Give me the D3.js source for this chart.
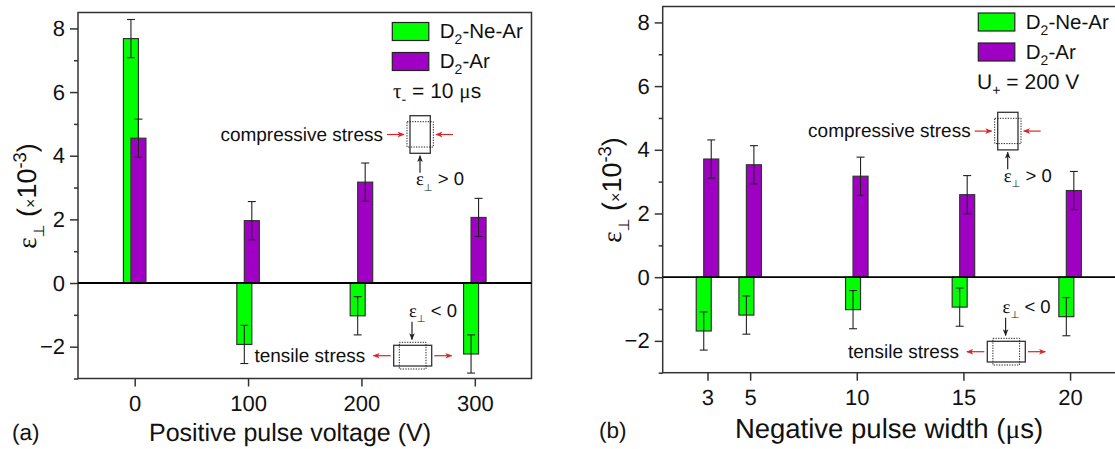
<!DOCTYPE html>
<html>
<head>
<meta charset="utf-8">
<script src="https://d3js.org/d3.v7.min.js"></script>
<style>
html, body { margin: 0; padding: 0; background: #fff; overflow: hidden; }
text { font-family: "Liberation Sans", Arial, sans-serif; fill: #111; text-rendering: geometricPrecision; }
</style>
</head>
<body>
<div id="chart"></div>
<script>
// values
const voltages = [0, 100, 200, 300]
const neVoltage = [7.68, -1.93, -1.03, -2.23]
const arVoltage = [4.55, 1.96, 3.17, 2.06]
const neVoltageErr = [0.6, 0.6, 0.6, 0.6]
const arVoltageErr = [0.6, 0.6, 0.6, 0.6]

const widths = [3, 5, 10, 15, 20]
const neWidth = [-1.69, -1.19, -1.02, -0.94, -1.24]
const arWidth = [3.71, 3.53, 3.17, 2.59, 2.72]
const neWidthErr = [0.6, 0.6, 0.6, 0.6, 0.6]
const arWidthErr = [0.6, 0.6, 0.6, 0.6, 0.6]

const yMajor = [-2, 0, 2, 4, 6, 8]
const yMinor = [-3, -1, 1, 3, 5, 7]

const GREEN = '#00ff00'
const PURPLE = '#a000c4'
const RED = '#d8262c'
const AXIS = '#333'
const BAR_W = 15
const BAR_SHIFT = 3.75
const CAP = 4

const svg = d3.select('#chart').append('svg')
    .attr('width', 1115)
    .attr('height', 449)

const defs = svg.append('defs')
function marker(id, color) {
    defs.append('marker')
        .attr('id', id)
        .attr('viewBox', '0 0 10 10')
        .attr('refX', 9).attr('refY', 5)
        .attr('markerUnits', 'userSpaceOnUse')
        .attr('markerWidth', 7).attr('markerHeight', 7)
        .attr('orient', 'auto')
        .append('path')
        .attr('d', 'M0,1L10,5L0,9L2.5,5Z')
        .attr('fill', color)
}
marker('arrRed', RED)
marker('arrBlack', '#222')

// text with sub/superscripts: parts are [string, kind]
function rich(g, x, y, parts, size, anchor) {
    const t = g.append('text')
        .attr('x', x).attr('y', y)
        .attr('font-size', size)
        .attr('text-anchor', anchor || 'start')
    let shift = 0
    parts.forEach(function (p) {
        const kind = p[1]
        let target = 0
        let fs = size
        if (kind === 'sub') { target = size * 0.3; fs = size * 0.68 }
        if (kind === 'perp') { target = size * 0.3; fs = size * 0.55 }
        if (kind === 'sup') { target = -size * 0.38; fs = size * 0.68 }
        if (kind === 'small') { fs = size * 0.6 }
        const s = t.append('tspan')
            .attr('dy', target - shift)
            .attr('font-size', fs)
            .text(p[0])
        if (kind === 'sym') s.style('font-family', '"Liberation Serif", serif')
        shift = target
    })
    return t
}

function arrow(g, x1, y1, x2, y2, color, id) {
    g.append('line')
        .attr('x1', x1).attr('y1', y1).attr('x2', x2).attr('y2', y2)
        .attr('stroke', color).attr('stroke-width', 1.2)
        .attr('marker-end', 'url(#' + id + ')')
}

function box(g, x1, y1, x2, y2, dotted) {
    g.append('rect')
        .attr('x', x1).attr('y', y1)
        .attr('width', x2 - x1).attr('height', y2 - y1)
        .attr('fill', 'none')
        .attr('stroke', dotted ? '#222' : '#333')
        .attr('stroke-width', dotted ? 1 : 1.3)
        .attr('stroke-dasharray', dotted ? '1.3,1.3' : null)
}

const EPS = [['ε', 'sym'], ['⊥', 'perp']]

// schematics, drawn at panel (a) position and moved with a translate for (b)
function compressive(dx, dy) {
    const g = svg.append('g').attr('transform', `translate(${dx},${dy})`)
    g.append('text').attr('x', 383).attr('y', 140.5).attr('font-size', 19)
        .attr('text-anchor', 'end').text('compressive stress')
    arrow(g, 387, 134.5, 404, 134.5, RED, 'arrRed')
    arrow(g, 453, 134.5, 436, 134.5, RED, 'arrRed')
    box(g, 410, 115.7, 430.3, 153.3, false)
    box(g, 407, 121.7, 433.3, 147, true)
    arrow(g, 420, 172.7, 420, 155.7, '#222', 'arrBlack')
    rich(g, 416, 185, EPS.concat([[' > 0']]), 18.5)
}

function tensile(dx, dy) {
    const g = svg.append('g').attr('transform', `translate(${dx},${dy})`)
    g.append('text').attr('x', 365.3).attr('y', 362.3).attr('font-size', 19)
        .attr('text-anchor', 'end').text('tensile stress')
    arrow(g, 390.7, 355.7, 373.3, 355.7, RED, 'arrRed')
    arrow(g, 434.3, 355.7, 451.7, 355.7, RED, 'arrRed')
    box(g, 393.7, 345.3, 431.7, 366, false)
    box(g, 399.3, 342.3, 426, 369, true)
    arrow(g, 412, 321.7, 412, 339.5, '#222', 'arrBlack')
    rich(g, 409, 316.7, EPS.concat([[' < 0']]), 18.5)
}

function series(g, cats, vals, errs, color, shift, x, y) {
    const bars = g.append('g')
    bars.selectAll('rect').data(vals).join('rect')
        .attr('x', (d, i) => x(cats[i]) + shift - BAR_W / 2)
        .attr('y', d => Math.min(y(0), y(d)))
        .attr('width', BAR_W)
        .attr('height', d => Math.abs(y(d) - y(0)))
        .attr('fill', color)
        .attr('stroke', '#333')
        .attr('stroke-width', 1.2)

    const err = g.append('g').attr('stroke', '#222').attr('stroke-width', 1.1)
    vals.forEach(function (v, i) {
        const cx = x(cats[i]) + shift
        err.append('line')
            .attr('x1', cx).attr('x2', cx)
            .attr('y1', y(v - errs[i])).attr('y2', y(v + errs[i]))
        ;[v - errs[i], v + errs[i]].forEach(function (e) {
            err.append('line')
                .attr('x1', cx - CAP).attr('x2', cx + CAP)
                .attr('y1', y(e)).attr('y2', y(e))
        })
    })
}

function panel(o) {
    const x = d3.scaleLinear().domain(o.xDomain).range([o.left, o.right])
    const y = d3.scaleLinear().domain([-3, 8.5]).range([o.bottom, o.top])
    const g = svg.append('g')

    series(g, o.cats, o.ne, o.neErr, GREEN, -BAR_SHIFT, x, y)
    series(g, o.cats, o.ar, o.arErr, PURPLE, BAR_SHIFT, x, y)

    // frame + zero line
    g.append('rect')
        .attr('x', o.left).attr('y', o.top)
        .attr('width', o.right - o.left).attr('height', o.bottom - o.top)
        .attr('fill', 'none').attr('stroke', AXIS).attr('stroke-width', 1.5)
    g.append('line')
        .attr('x1', o.left).attr('x2', o.right)
        .attr('y1', y(0)).attr('y2', y(0))
        .attr('stroke', '#000').attr('stroke-width', 1.8)

    const yAxis = d3.axisLeft(y).tickValues(yMajor).tickSize(8).tickPadding(5)
        .tickFormat(d3.format('d'))
    const yMin = d3.axisLeft(y).tickValues(yMinor).tickSize(4).tickFormat('')
    const xAxis = d3.axisBottom(x).tickValues(o.cats).tickSize(8).tickPadding(9)
        .tickFormat(d3.format('d'))

    g.append('g').attr('transform', `translate(${o.left},0)`).call(yMin)
    g.append('g').attr('transform', `translate(${o.left},0)`).call(yAxis)
    g.append('g').attr('transform', `translate(0,${o.bottom})`).call(xAxis)
    g.selectAll('.domain').remove()
    g.selectAll('.tick line').attr('stroke', AXIS).attr('stroke-width', 1.5)
    g.selectAll('.tick text')
        .attr('font-size', 22)
        .style('font-family', '"Liberation Sans", Arial, sans-serif')
        .attr('fill', '#111')

    // y title
    const yt = g.append('g')
        .attr('transform', `translate(${o.yTitleX},${o.yTitleY}) rotate(-90)`)
    rich(yt, 0, 0, [['ε', 'sym'], ['⊥', 'perp'], [' ('], ['×', 'small'], ['10'], ['-3', 'sup'], [')']], 27, 'middle')

    rich(g, o.xTitleX, o.xTitleY, o.xTitle, o.xTitleSize, 'middle')
    g.append('text').attr('x', o.tagX).attr('y', o.tagY).attr('font-size', 22.5).text(o.tag)

    // legend
    ;[[o.legendY, GREEN, 'D', '-Ne-Ar'], [o.legendY + 30, PURPLE, 'D', '-Ar']].forEach(function (l) {
        g.append('rect')
            .attr('x', o.legendX).attr('y', l[0])
            .attr('width', 36.5).attr('height', 18)
            .attr('fill', l[1]).attr('stroke', '#222').attr('stroke-width', 1.2)
        rich(g, o.legendX + 47.5, l[0] + 15.5, [[l[2]], ['2', 'sub'], [l[3]]], 20.5)
    })
    rich(g, o.noteX, o.noteY, o.note, o.noteSize)
}

panel({
    left: 78, right: 531.5, top: 12.5, bottom: 378.5,
    xDomain: [-50, 350], cats: voltages,
    ne: neVoltage, ar: arVoltage, neErr: neVoltageErr, arErr: arVoltageErr,
    yTitleX: 36, yTitleY: 196,
    xTitle: [['Positive pulse voltage (V)']], xTitleX: 290, xTitleY: 441, xTitleSize: 25,
    tag: '(a)', tagX: 12, tagY: 440,
    legendX: 392.3, legendY: 22.5,
    note: [['τ', 'sym'], ['-', 'sub'], [' = 10 '], ['μ', 'sym'], ['s']], noteX: 393, noteY: 98, noteSize: 21
})

panel({
    left: 662.7, right: 1117, top: 6.5, bottom: 372.7,
    xDomain: [0.9, 22.2], cats: widths,
    ne: neWidth, ar: arWidth, neErr: neWidthErr, arErr: arWidthErr,
    yTitleX: 621, yTitleY: 190,
    xTitle: [['Negative pulse width ('], ['μ', 'sym'], ['s)']], xTitleX: 889, xTitleY: 438, xTitleSize: 27.5,
    tag: '(b)', tagX: 599, tagY: 438,
    legendX: 978.3, legendY: 13,
    note: [['U'], ['+', 'sub'], [' = 200 V']], noteX: 977, noteY: 89, noteSize: 21
})

compressive(0, 0)
tensile(0, 0)
compressive(587.7, -3.4)
tensile(593.6, -4)
</script>
</body>
</html>
